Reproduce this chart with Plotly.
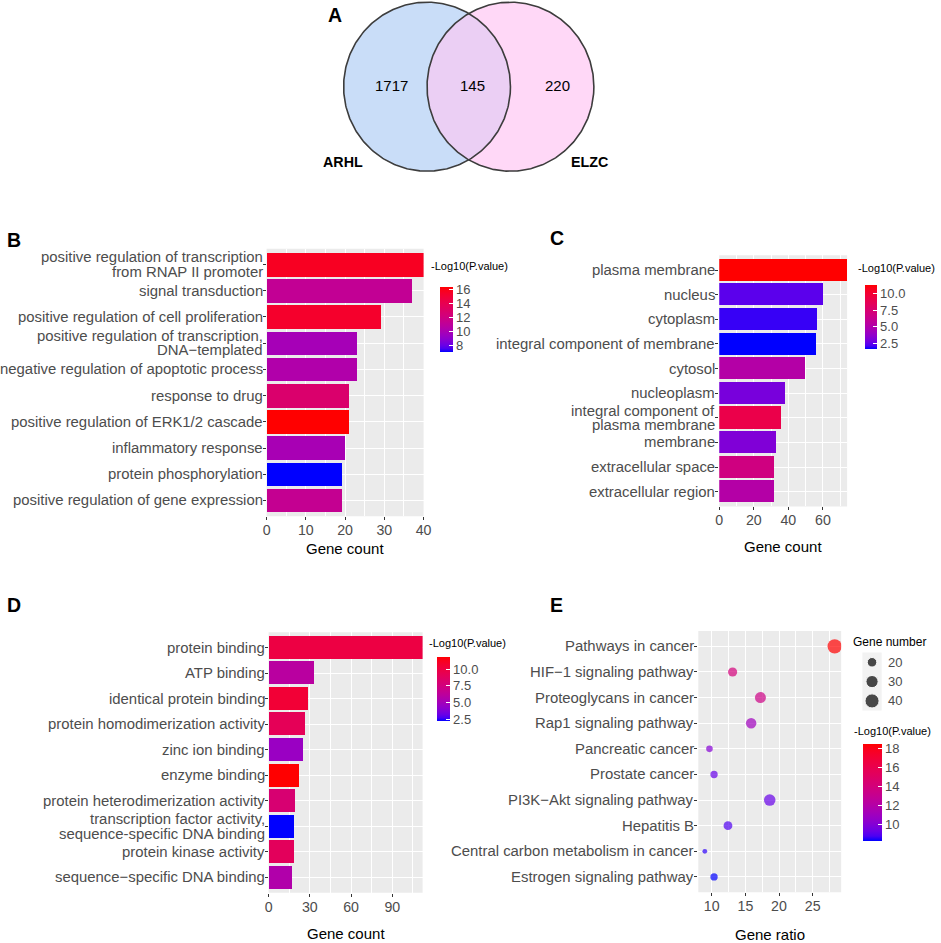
import numpy as np
import plotly.graph_objects as go

W, H = 941, 943

# ---------------- DATA ----------------
venn_sets = ["ARHL", "ELZC"]
venn_counts = [1717, 145, 220]  # ARHL only, both, ELZC only

bp_terms = [
    "positive regulation of transcription\nfrom RNAP II promoter",
    "signal transduction",
    "positive regulation of cell proliferation",
    "positive regulation of transcription,\nDNA\u2212templated",
    "negative regulation of apoptotic process",
    "response to drug",
    "positive regulation of ERK1/2 cascade",
    "inflammatory response",
    "protein phosphorylation",
    "positive regulation of gene expression",
]
bp_counts = [40, 37, 29, 23, 23, 21, 21, 20, 19, 19]
bp_logp = [15.6, 11.2, 15.3, 9.8, 10.3, 12.8, 16.3, 9.9, 7.0, 11.3]

cc_terms = [
    "plasma membrane",
    "nucleus",
    "cytoplasm",
    "integral component of membrane",
    "cytosol",
    "nucleoplasm",
    "integral component of\nplasma membrane",
    "membrane",
    "extracellular space",
    "extracellular region",
]
cc_counts = [74, 60, 57, 56, 50, 38, 36, 33, 32, 32]
cc_logp = [11.25, 2.4, 2.0, 1.65, 5.2, 3.0, 9.1, 3.2, 6.8, 5.2]

mf_terms = [
    "protein binding",
    "ATP binding",
    "identical protein binding",
    "protein homodimerization activity",
    "zinc ion binding",
    "enzyme binding",
    "protein heterodimerization activity",
    "transcription factor activity,\nsequence-specific DNA binding",
    "protein kinase activity",
    "sequence\u2212specific DNA binding",
]
mf_counts = [112, 33, 28, 26, 25, 22, 19, 18, 18, 17]
mf_logp = [9.9, 6.0, 10.4, 9.1, 4.6, 11.8, 8.0, 2.2, 8.9, 5.6]

kegg_terms = [
    "Pathways in cancer",
    "HIF\u22121 signaling pathway",
    "Proteoglycans in cancer",
    "Rap1 signaling pathway",
    "Pancreatic cancer",
    "Prostate cancer",
    "PI3K\u2212Akt signaling pathway",
    "Hepatitis B",
    "Central carbon metabolism in cancer",
    "Estrogen signaling pathway",
]
kegg_ratio = [28.28, 13.10, 17.24, 15.86, 9.66, 10.34, 18.62, 12.41, 8.97, 10.34]
kegg_counts = [41, 19, 25, 23, 14, 15, 27, 18, 13, 15]
kegg_logp = [18.5, 14.0, 13.5, 11.0, 10.0, 9.2, 9.2, 8.8, 8.5, 8.2]
size_breaks = [20, 30, 40]

# ---------------- helpers ----------------
FONT = "Liberation Sans, Arial, sans-serif"
TXT = "#4D4D4D"


def fx(p):
    return p / W


def fy(p):
    return 1 - p / H


M = np.array([[0.4124564, 0.3575761, 0.1804375],
              [0.2126729, 0.7151522, 0.0721750],
              [0.0193339, 0.1191920, 0.9503041]])
WHITE = np.array([0.95047, 1.0, 1.08883])


def to_lab(hexc):
    rgb = np.array([int(hexc[i:i + 2], 16) for i in (1, 3, 5)]) / 255.0
    lin = np.where(rgb <= 0.04045, rgb / 12.92, ((rgb + 0.055) / 1.055) ** 2.4)
    xyz = M @ lin / WHITE
    f = np.where(xyz > 0.008856, np.cbrt(xyz), 7.787 * xyz + 16 / 116)
    return np.array([116 * f[1] - 16, 500 * (f[0] - f[1]), 200 * (f[1] - f[2])])


def from_lab(lab):
    L, a, b = lab
    fyv = (L + 16) / 116
    f = np.array([fyv + a / 500, fyv, fyv - b / 200])
    xyz = np.where(f ** 3 > 0.008856, f ** 3, (f - 16 / 116) / 7.787) * WHITE
    lin = np.clip(np.linalg.inv(M) @ xyz, 0, 1)
    rgb = np.where(lin <= 0.0031308, 12.92 * lin, 1.055 * lin ** (1 / 2.4) - 0.055)
    r, g, bb = np.round(np.clip(rgb, 0, 1) * 255).astype(int)
    return f"rgb({r},{g},{bb})"


lab_lo, lab_hi = to_lab("#0000FF"), to_lab("#FF0000")
CS = [[float(t), from_lab(lab_lo * (1 - t) + lab_hi * t)] for t in np.linspace(0, 1, 21)]

fig = go.Figure()
shapes = []
anns = []
layout = {}


def domx(a, b):
    return [fx(a), fx(b)]


def domy(top, bot):
    return [fy(bot), fy(top)]


def cat_labels(cats, xa, ya):
    for i, c in enumerate(cats):
        lines = c.split("\n")
        n = len(lines)
        for j, l in enumerate(lines):
            anns.append(dict(text=l, xref=f"{xa} domain", x=0, xanchor="right", xshift=-2,
                             yref=ya, y=i, yanchor="middle", yshift=((n - 1) / 2 - j) * 14.5,
                             showarrow=False, font=dict(size=14.9, color=TXT, family=FONT)))


def panel_axes(k, xd, yd, xrange, dtick, mdtick, tick0, cats):
    xa, ya = f"xaxis{k}", f"yaxis{k}"
    layout[xa] = dict(domain=xd, anchor=f"y{k}", range=xrange, dtick=dtick, tick0=tick0,
                      ticks="outside", ticklen=3, tickcolor="#333333", tickwidth=1,
                      tickfont=dict(size=14.2, color=TXT, family=FONT), ticklabelstandoff=-2,
                      showgrid=True, gridcolor="white", gridwidth=1.2, zeroline=False,
                      showline=False, fixedrange=True,
                      minor=dict(dtick=mdtick, tick0=tick0, showgrid=True, gridcolor="white",
                                 gridwidth=0.6, ticks=""))
    layout[ya] = dict(domain=yd, anchor=f"x{k}", type="category", categoryorder="array",
                      categoryarray=cats, range=[len(cats) - 0.4, -0.6],
                      showticklabels=False, ticks="outside", ticklen=3, tickcolor="#333333",
                      tickwidth=1, showgrid=True, gridcolor="white", gridwidth=1.2,
                      zeroline=False, showline=False, fixedrange=True)
    shapes.append(dict(type="rect", xref=f"x{k} domain", yref=f"y{k} domain", x0=0, x1=1,
                       y0=0, y1=1, fillcolor="#EBEBEB", line=dict(width=0), layer="below"))
    cat_labels(cats, f"x{k}", f"y{k}")


def colorbar_axis(name, vals, left, top, length, thick, tickvals, fmt):
    layout[name] = dict(colorscale=CS, cmin=min(vals), cmax=max(vals),
                        colorbar=dict(x=fx(left), xanchor="left", xpad=0, y=fy(top),
                                      yanchor="top", ypad=0, len=length, lenmode="pixels",
                                      thickness=thick, thicknessmode="pixels", outlinewidth=0,
                                      tickvals=tickvals, tickformat=fmt, ticks="inside",
                                      ticklen=4, tickcolor="white",
                                      tickfont=dict(size=13, color=TXT, family=FONT)))


def text(t, x, y, size, bold=False, color="black", anchor="center"):
    anns.append(dict(text=f"<b>{t}</b>" if bold else t, xref="paper", yref="paper",
                     x=fx(x), y=fy(y), xanchor=anchor, yanchor="middle", showarrow=False,
                     font=dict(size=size, color=color, family=FONT)))


# ---------------- A: Venn ----------------
r_px = 84.5
cx_px, cy_px = 470.75, 86.7
layout["xaxis"] = dict(domain=domx(cx_px - 1.7 * r_px, cx_px + 1.7 * r_px), range=[-1.7, 1.7],
                       visible=False, fixedrange=True, anchor="y")
layout["yaxis"] = dict(domain=domy(cy_px - 1.025 * r_px, cy_px + 1.025 * r_px),
                       range=[-1.025, 1.025], visible=False, fixedrange=True, anchor="x")
centers = [-0.5, 0.5]
th = np.linspace(0, 2 * np.pi, 361)
fills = ["#C9DDF8", "#FFD8F7"]
for c, col in zip(centers, fills):
    fig.add_trace(go.Scatter(x=c + np.cos(th), y=np.sin(th), fill="toself", fillcolor=col,
                             mode="none", hoverinfo="skip", showlegend=False,
                             xaxis="x", yaxis="y"))
a1 = np.linspace(-np.pi / 3, np.pi / 3, 121)
a2 = np.linspace(2 * np.pi / 3, 4 * np.pi / 3, 121)
lx = np.concatenate([centers[0] + np.cos(a1), centers[1] + np.cos(a2)])
ly = np.concatenate([np.sin(a1), np.sin(a2)])
fig.add_trace(go.Scatter(x=lx, y=ly, fill="toself", fillcolor="#EBCFF4", mode="none",
                         hoverinfo="skip", showlegend=False, xaxis="x", yaxis="y"))
for c in centers:
    fig.add_trace(go.Scatter(x=c + np.cos(th), y=np.sin(th), mode="lines",
                             line=dict(color="#3D3D3D", width=1.6), hoverinfo="skip",
                             showlegend=False, xaxis="x", yaxis="y"))
for val, xpos in zip(venn_counts, [centers[0] - 0.43, 0.05, centers[1] + 0.56]):
    anns.append(dict(text=str(val), x=xpos, y=0.01, xref="x", yref="y", showarrow=False,
                     font=dict(size=15, color="black", family=FONT)))
for name, xpos in zip(venn_sets, [centers[0] - 1.01, centers[1] + 0.95]):
    anns.append(dict(text=f"<b>{name}</b>", x=xpos, y=-0.89, xref="x", yref="y",
                     showarrow=False, font=dict(size=14.3, color="black", family=FONT)))

# ---------------- B, C, D: bar panels ----------------
bar_panels = [
    (2, bp_terms, bp_counts, bp_logp, (266, 425), (248.8, 516.2), [0, 40], 10, 5,
     (442, 287, 65, 13, [8, 10, 12, 14, 16], "d"), (430, 266), 548),
    (3, cc_terms, cc_counts, cc_logp, (724.5, 854), (255.3, 506.4), [0, 74], 20, 10,
     (872, 285, 64, 12, [2.5, 5, 7.5, 10], ".1f"), (862.7, 268), 546),
    (4, mf_terms, mf_counts, mf_logp, (268, 424), (632.2, 892.8), [0, 112], 30, 15,
     (439, 657, 64, 13, [2.5, 5, 7.5, 10], ".1f"), (428, 643), 933),
]
for k, cats, counts, logp, xd, yd, xr, dt, mdt, cb, cbt, ttl_y in bar_panels:
    panel_axes(k, domx(*xd), domy(*yd), xr, dt, mdt, 0, cats)
    fig.add_trace(go.Bar(x=counts, y=cats, orientation="h", width=0.9,
                         marker=dict(color=logp, coloraxis=f"coloraxis{k}", line=dict(width=0)),
                         xaxis=f"x{k}", yaxis=f"y{k}", showlegend=False))
    colorbar_axis(f"coloraxis{k}", logp, *cb)
    text("-Log10(P.value)", cbt[0], cbt[1], 11, anchor="left")
    text("Gene count", (xd[0] + xd[1]) / 2, ttl_y, 15)

# ---------------- E: KEGG dot plot ----------------
kmin, kmax = min(kegg_counts), max(kegg_counts)


def dot_size(v):
    return 4.8 + 9.5 * np.sqrt((np.asarray(v, float) - kmin) / (kmax - kmin))


span = max(kegg_ratio) - min(kegg_ratio)
panel_axes(5, domx(703.3, 848), domy(631, 892.3),
           [min(kegg_ratio) - 0.05 * span, max(kegg_ratio) + 0.05 * span], 5, 2.5, 0, kegg_terms)
fig.add_trace(go.Scatter(x=kegg_ratio, y=kegg_terms, mode="markers",
                         marker=dict(size=dot_size(kegg_counts), sizemode="diameter",
                                     color=kegg_logp, coloraxis="coloraxis5", line=dict(width=0)),
                         xaxis="x5", yaxis="y5", showlegend=False))
colorbar_axis("coloraxis5", kegg_logp, 870, 744, 97, 19, [10, 12, 14, 16, 18], "d")
text("-Log10(P.value)", 859, 731, 11, anchor="left")
text("Gene ratio", 775.6, 934.5, 15)

# size legend
layout["xaxis6"] = dict(domain=domx(869.5, 889), range=[-1, 1], visible=False,
                        fixedrange=True, anchor="y6")
layout["yaxis6"] = dict(domain=domy(652.6, 710.6), range=[len(size_breaks) - 0.5, -0.5],
                        visible=False, fixedrange=True, anchor="x6")
shapes.append(dict(type="rect", xref="x6 domain", yref="y6 domain", x0=0, x1=1, y0=0, y1=1,
                   fillcolor="#F2F2F2", line=dict(width=0), layer="below"))
fig.add_trace(go.Scatter(x=[0] * len(size_breaks), y=list(range(len(size_breaks))),
                         mode="markers", marker=dict(size=dot_size(size_breaks),
                                                     sizemode="diameter", color="black"),
                         xaxis="x6", yaxis="y6", showlegend=False, hoverinfo="skip"))
for i, b in enumerate(size_breaks):
    anns.append(dict(text=str(b), xref="x6 domain", x=1, xanchor="left", xshift=4,
                     yref="y6", y=i, yanchor="middle", showarrow=False,
                     font=dict(size=13, color=TXT, family=FONT)))
text("Gene number", 858, 642, 12, anchor="left")

# ---------------- panel letters ----------------
for letter, x, y in [("A", 335, 15), ("B", 10.5, 240), ("C", 560, 238), ("D", 10.5, 605),
                     ("E", 560, 605)]:
    text(letter, x, y, 19.5, bold=True)

fig.update_layout(width=W, height=H, autosize=False, margin=dict(l=0, r=0, t=0, b=0),
                  paper_bgcolor="white", plot_bgcolor="white", showlegend=False,
                  font=dict(family=FONT), shapes=shapes, annotations=anns, bargap=0,
                  **layout)
fig.write_html("out.html", config={"displayModeBar": False},
               post_script="document.body.style.margin='0';"
                           "document.body.style.overflow='hidden';")
